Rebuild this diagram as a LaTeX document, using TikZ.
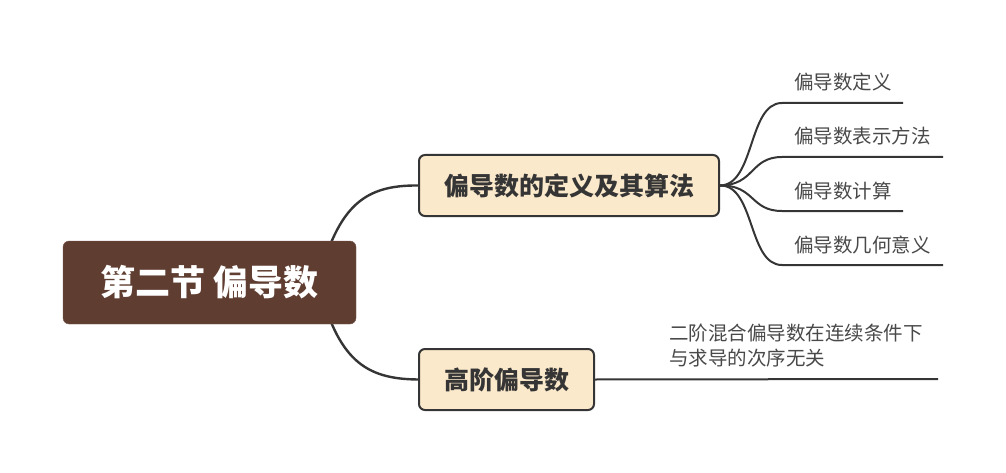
\documentclass[tikz,border=0pt]{standalone}
\usepackage{fontspec}
\setmainfont{Noto Sans CJK SC}
\usepackage{tikz}
\usetikzlibrary{positioning, backgrounds, calc}
\definecolor{rootbrown}{HTML}{5F3D31}
\definecolor{topicbeige}{HTML}{FBE9CB}
\definecolor{linegray}{HTML}{353535}

\begin{document}
\begin{tikzpicture}[x=1pt, y=-1pt,
    rootbox/.style={fill=rootbrown, draw=rootbrown!85!white, rounded corners=6pt, text=white, font=\fontsize{35}{40}\selectfont\bfseries},
    topicbox/.style={fill=topicbeige, draw=linegray, line width=2pt, rounded corners=6pt, text=linegray, font=\fontsize{25}{30}\selectfont\bfseries},
    leaftext/.style={text=linegray!90!white, inner sep=0pt, font=\fontsize{19.5}{25}\selectfont},
    branch/.style={draw=linegray, line width=2.4pt},
    twig/.style={draw=linegray, line width=2pt}]
    \useasboundingbox (0,0) rectangle (1006,473);

    \node[rootbox, minimum width=293, minimum height=83] at (209.5,282.5) (root) {第二节\ 偏导数};
    \node[topicbox, minimum width=300, minimum height=61] at (569,185.5) (defn) {偏导数的定义及其算法};
    \node[topicbox, minimum width=175, minimum height=61] at (506.5,379.5) (higher) {高阶偏导数};

    \node[leaftext, anchor=base west] at (794,90) (l1) {偏导数定义};
    \node[leaftext, anchor=base west] at (794,144) (l2) {偏导数表示方法};
    \node[leaftext, anchor=base west] at (794,198) (l3) {偏导数计算};
    \node[leaftext, anchor=base west] at (794,252) (l4) {偏导数几何意义};
    \node[leaftext, anchor=south west, align=left] at (669,367) (l5) {二阶混合偏导数在连续条件下\\与求导的次序无关};

    \coordinate (u1a) at (782,103);  \coordinate (u1b) at (903,103);
    \coordinate (u2a) at (782,157);  \coordinate (u2b) at (943,157);
    \coordinate (u3a) at (782,211);  \coordinate (u3b) at (903,211);
    \coordinate (u4a) at (782,265);  \coordinate (u4b) at (943,265);
    \coordinate (u5b) at (938,379);

    \begin{scope}[on background layer]
    \draw[branch] ($(root.east)+(-38,0)$) .. controls (338,205) and (365,185) .. (defn.west);
    \draw[branch] ($(root.east)+(-38,0)$) .. controls (338,360) and (365,379) .. (higher.west);
    \end{scope}

    \draw[twig] (defn.east) .. controls (755,185) and (748,103) .. (u1a) -- (u1b);
    \draw[twig] (defn.east) .. controls (755,185) and (750,157) .. (u2a) -- (u2b);
    \draw[twig] (defn.east) .. controls (755,185) and (750,211) .. (u3a) -- (u3b);
    \draw[twig] (defn.east) .. controls (755,185) and (748,265) .. (u4a) -- (u4b);
    \draw[twig] (higher.east) -- (u5b);
\end{tikzpicture}
\end{document}
